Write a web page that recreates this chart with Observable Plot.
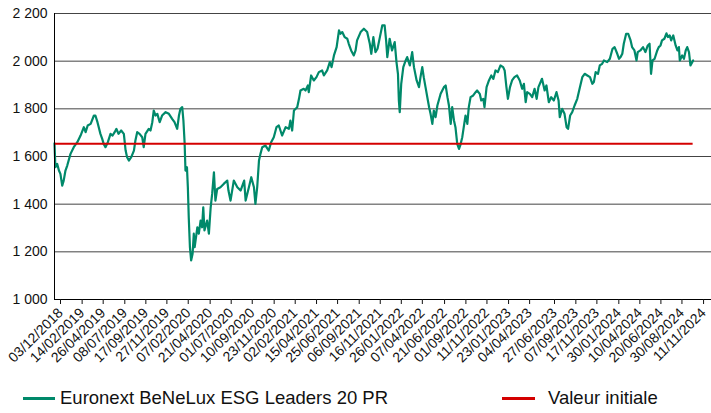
<!DOCTYPE html>
<html><head><meta charset="utf-8">
<script src="https://cdn.jsdelivr.net/npm/d3@7"></script>
<script src="https://cdn.jsdelivr.net/npm/@observablehq/plot@0.6"></script>
<style>
body{margin:0;background:#fff;font-family:"Liberation Sans",Arial,sans-serif;}
#legend{position:relative;width:711px;height:41px;font-size:18.5px;color:#111;}
.sw{position:absolute;height:3px;top:25px;}
.lt{position:absolute;top:17px;line-height:1;white-space:nowrap;}
</style></head><body><div id="chart"></div><div id="legend"></div>
<script>
const seriesName = "Euronext BeNeLux ESG Leaders 20 PR";
const refName = "Valeur initiale";
const startDate = "03/12/2018";
const initialValue = 1653;
// trading-session offsets in days from start date
const sessionDay = [0,3,9,15,20,26,31,37,43,54,65,77,88,99,105,112,122,133,138,145,155,161,166,172,180,189,196,203,209,216,225,234,240,245,251,259,268,273,279,287,296,301,307,318,324,330,335,341,347,355,363,375,386,397,405,414,420,425,431,435,439,442,447,450,453,457,461,466,470,473,482,487,493,498,502,506,515,521,527,532,538,543,549,560,571,583,587,594,605,617,628,640,645,656,664,673,678,684,690,695,701,712,723,731,740,749,757,768,780,791,796,802,808,819,825,830,841,847,855,858,866,875,884,892,903,909,920,929,935,943,952,960,965,971,979,988,993,1001,1010,1016,1021,1033,1044,1055,1064,1069,1076,1083,1090,1098,1106,1114,1119,1123,1131,1139,1148,1154,1159,1162,1165,1170,1177,1185,1190,1199,1207,1213,1222,1230,1235,1241,1246,1252,1260,1264,1269,1275,1280,1286,1292,1303,1314,1320,1326,1331,1337,1342,1348,1353,1359,1365,1370,1376,1381,1387,1393,1398,1404,1413,1421,1426,1435,1440,1447,1451,1458,1466,1474,1481,1488,1496,1505,1514,1519,1525,1530,1537,1544,1552,1561,1570,1578,1584,1590,1595,1604,1612,1620,1627,1633,1645,1654,1660,1668,1676,1685,1694,1701,1705,1713,1721,1728,1733,1740,1747,1755,1764,1773,1781,1789,1798,1807,1815,1820,1826,1834,1840,1848,1854,1865,1874,1883,1890,1899,1905,1910,1916,1921,1929,1936,1944,1949,1957,1964,1968,1977,1986,1994,2002,2008,2013,2018,2025,2034,2039,2045,2050,2058,2065,2070,2076,2081,2088,2096,2102,2107,2110,2118,2124,2130,2135,2141,2146,2152,2155];
const indexValue = [1655,1555,1569,1541,1527,1478,1499,1541,1562,1611,1639,1660,1688,1723,1702,1730,1737,1772,1772,1744,1695,1674,1653,1639,1660,1695,1688,1702,1716,1695,1709,1695,1625,1597,1583,1597,1625,1667,1702,1695,1681,1639,1695,1716,1709,1744,1793,1772,1779,1744,1772,1786,1779,1758,1744,1716,1772,1800,1807,1751,1660,1541,1555,1471,1345,1220,1164,1192,1276,1220,1303,1276,1331,1303,1387,1290,1331,1276,1387,1443,1534,1415,1464,1471,1485,1499,1457,1415,1499,1471,1457,1499,1415,1471,1513,1471,1401,1471,1583,1611,1639,1646,1625,1660,1681,1723,1730,1688,1723,1716,1751,1709,1793,1807,1842,1877,1884,1877,1898,1870,1940,1919,1933,1954,1961,1940,1961,1996,1975,2024,2059,2129,2115,2122,2101,2094,2073,2045,2024,2045,2087,2122,2136,2122,2073,2031,2101,2038,2052,2101,2150,2150,2087,2017,2094,2045,2080,1996,1947,1835,1786,1905,1975,2003,2017,1982,2038,1975,1919,1891,1933,1975,1933,1891,1835,1807,1779,1737,1793,1765,1814,1863,1891,1898,1849,1814,1737,1807,1751,1723,1653,1632,1650,1681,1723,1772,1737,1807,1849,1856,1870,1877,1863,1835,1842,1807,1891,1919,1940,1926,1961,1954,1982,1975,1961,1891,1842,1891,1919,1933,1940,1919,1884,1905,1828,1870,1863,1849,1884,1842,1891,1926,1877,1898,1828,1849,1835,1870,1835,1765,1800,1779,1723,1716,1772,1786,1814,1842,1891,1933,1947,1940,1933,1905,1912,1954,1947,1982,1989,2003,1996,2010,2052,2059,2031,2010,2017,2031,2073,2115,2115,2087,2059,2045,2003,2038,2045,2059,2038,2066,2073,1947,2003,2010,2045,2059,2066,2087,2094,2117,2101,2108,2087,2108,2066,2045,2059,2003,2024,2010,2045,2059,2038,1982,1996,2003];
const xTickLabels = ["03/12/2018","14/02/2019","26/04/2019","08/07/2019","17/09/2019","27/11/2019","07/02/2020","21/04/2020","01/07/2020","10/09/2020","23/11/2020","02/02/2021","15/04/2021","25/06/2021","06/09/2021","16/11/2021","26/01/2022","07/04/2022","21/06/2022","01/09/2022","11/11/2022","23/01/2023","04/04/2023","27/06/2023","07/09/2023","17/11/2023","30/01/2024","10/04/2024","20/06/2024","30/08/2024","11/11/2024"];
const yTicks = [1000,1200,1400,1600,1800,2000,2200];
const yTickLabels = ["1 000","1 200","1 400","1 600","1 800","2 000","2 200"];
const axisEndDate = "28/12/2024";

const parse = d3.utcParse("%d/%m/%Y");
const t0 = parse(startDate);
const data = sessionDay.map((d,i)=>({date: d3.utcDay.offset(t0, d), value: indexValue[i]}));
const tickDates = xTickLabels.map(parse);
const labelOf = new Map(tickDates.map((d,i)=>[+d, xTickLabels[i]]));
const yLabelOf = new Map(yTicks.map((d,i)=>[d, yTickLabels[i]]));
const lastDate = data[data.length-1].date;

const GREEN = "#00896a", RED = "#d40000";
const plot = Plot.plot({
  width: 711, height: 372,
  marginLeft: 54, marginRight: 0, marginTop: 13, marginBottom: 73,
  style: {fontFamily: '"Liberation Sans", Arial, sans-serif', fontSize: "14px", color: "#111", background: "#fff"},
  x: {type: "utc", domain: [t0, parse(axisEndDate)]},
  y: {domain: [1000, 2200]},
  marks: [
    Plot.ruleY(yTicks.slice(1), {stroke: "#444", strokeWidth: 1}),
    Plot.lineY(data, {x: "date", y: "value", stroke: GREEN, strokeWidth: 2.2}),
    Plot.ruleY([{y: initialValue, x1: t0, x2: lastDate}], {y: "y", x1: "x1", x2: "x2", stroke: RED, strokeWidth: 2}),
    Plot.ruleX([t0], {stroke: "#000", strokeWidth: 1}),
    Plot.ruleY([1000], {stroke: "#000", strokeWidth: 1}),
    Plot.axisY({ticks: yTicks, tickFormat: d => yLabelOf.get(d), tickSize: 0, tickPadding: 7, fontSize: 14, label: null}),
    Plot.axisX({ticks: tickDates, tickFormat: d => labelOf.get(+d), tickRotate: -45, tickSize: 5, tickPadding: 6, fontSize: 14, label: null, dx: 6})
  ]
});
document.getElementById("chart").appendChild(plot);

const lg = document.getElementById("legend");
lg.innerHTML = `<div class="sw" style="left:23px;width:32px;background:${GREEN}"></div>
<span class="lt" style="left:60px">${seriesName}</span>
<div class="sw" style="left:502px;width:33px;background:${RED}"></div>
<span class="lt" style="left:548px">${refName}</span>`;
</script></body></html>
